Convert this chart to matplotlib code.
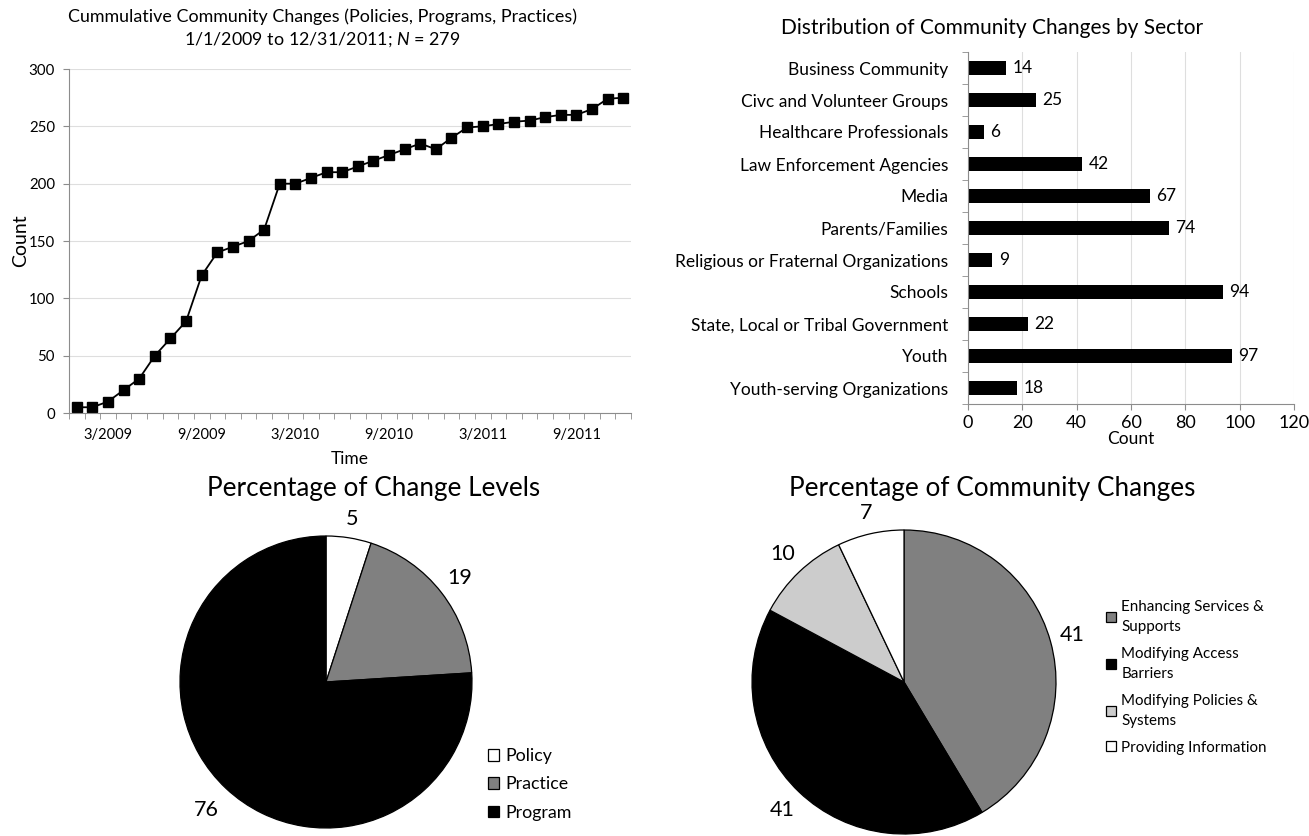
import matplotlib
matplotlib.use("Agg")
import matplotlib.pyplot as plt
import numpy as np

plt.rcParams['font.family'] = ['Lato', 'DejaVu Sans']
plt.rcParams['mathtext.fontset'] = 'custom'
plt.rcParams['mathtext.rm'] = 'Lato'
plt.rcParams['mathtext.it'] = 'Lato:italic'

# cumulative counts, one per month Jan 2009 - Dec 2011
months = list(range(36))
cumulative = [5, 5, 10, 20, 30, 50, 65, 80, 120, 140, 145, 150,
              160, 200, 200, 205, 210, 210, 215, 220, 225, 230, 235, 230,
              240, 249, 250, 252, 254, 255, 258, 260, 260, 265, 274, 275]
month_tick_idx = [2, 8, 14, 20, 26, 32]
month_tick_labels = ['3/2009', '9/2009', '3/2010', '9/2010', '3/2011', '9/2011']

sectors = ['Business Community', 'Civc and Volunteer Groups', 'Healthcare Professionals',
           'Law Enforcement Agencies', 'Media', 'Parents/Families',
           'Religious or Fraternal Organizations', 'Schools',
           'State, Local or Tribal Government', 'Youth', 'Youth-serving Organizations']
sector_counts = [14, 25, 6, 42, 67, 74, 9, 94, 22, 97, 18]

level_names = ['Policy', 'Practice', 'Program']
level_pct = [5, 19, 76]
level_colors = ['white', '#808080', 'black']

change_names = ['Enhancing Services &\nSupports', 'Modifying Access\nBarriers',
                'Modifying Policies &\nSystems', 'Providing Information']
change_pct = [41, 41, 10, 7]
change_colors = ['#808080', 'black', '#cccccc', 'white']

W, H = 1309, 836
fig = plt.figure(figsize=(W / 100, H / 100), dpi=100)


def px_axes(x0, y0, x1, y1):
    # pixel box (top-left origin) -> figure axes
    return fig.add_axes([x0 / W, 1 - y1 / H, (x1 - x0) / W, (y1 - y0) / H])


grid_c = '#dedede'
spine_c = '#8c8c8c'

# ---- line chart
ax1 = px_axes(69, 69, 631, 413)
ax1.plot(months, cumulative, color='black', lw=1.3, marker='s', markersize=7.8)
ax1.set_xlim(-0.5, 35.5)
ax1.set_ylim(0, 300)
ax1.set_yticks(range(0, 301, 50))
ax1.set_xticks(month_tick_idx)
ax1.set_xticklabels(month_tick_labels)
ax1.set_xticks(np.arange(-0.5, 36, 1), minor=True)
ax1.tick_params(axis='x', which='major', length=0, pad=11, labelsize=10.5)
ax1.tick_params(axis='x', which='minor', length=4, color=spine_c, direction='out')
ax1.tick_params(axis='y', length=4, color=spine_c, labelsize=10.8, pad=6)
ax1.grid(axis='y', color=grid_c, lw=0.8)
ax1.set_axisbelow(True)
for s in ['top', 'right']:
    ax1.spines[s].set_visible(False)
for s in ['left', 'bottom']:
    ax1.spines[s].set_color(spine_c)
ax1.set_ylabel('Count', fontsize=14, labelpad=0)
ax1.set_xlabel('Time', fontsize=12.5, labelpad=6)
fig.text(322 / W, 1 - 17 / H, 'Cummulative Community Changes (Policies, Programs, Practices)',
         ha='center', va='center', fontsize=12.9)
fig.text(322 / W, 1 - 40 / H, '1/1/2009 to 12/31/2011; $\\mathit{N}$ = 279',
         ha='center', va='center', fontsize=12.9)

# ---- bar chart
ax2 = px_axes(968, 52, 1294, 404)
ypos = np.arange(len(sectors))
bars = ax2.barh(ypos, sector_counts, height=0.42, color='black')
ax2.bar_label(bars, padding=4.5, fontsize=12.5)
ax2.set_ylim(len(sectors) - 0.5, -0.5)
ax2.set_xlim(0, 120)
ax2.set_yticks(ypos)
ax2.set_yticklabels(sectors)
ax2.set_yticks(np.arange(-0.5, len(sectors), 1), minor=True)
ax2.set_xticks(range(0, 121, 20))
ax2.tick_params(axis='y', which='major', length=0, pad=14, labelsize=12.5)
ax2.tick_params(axis='y', which='minor', length=4, color=spine_c)
ax2.tick_params(axis='x', length=4, color=spine_c, labelsize=13, pad=4)
ax2.grid(axis='x', color=grid_c, lw=0.8)
ax2.set_axisbelow(True)
for s in ['top', 'right']:
    ax2.spines[s].set_visible(False)
for s in ['left', 'bottom']:
    ax2.spines[s].set_color(spine_c)
ax2.set_xlabel('Count', fontsize=12.5, labelpad=0)
fig.text(992 / W, 1 - 28 / H, 'Distribution of Community Changes by Sector',
         ha='center', va='center', fontsize=15)


def draw_pie(ax, vals, colors, dist):
    wedges, _ = ax.pie(vals, colors=colors, startangle=90, counterclock=False,
                       wedgeprops=dict(edgecolor='black', linewidth=0.9))
    ax.set_xlim(-1, 1)
    ax.set_ylim(-1, 1)
    for w, v, d in zip(wedges, vals, dist):
        ang = np.deg2rad((w.theta1 + w.theta2) / 2)
        ax.text(d * np.cos(ang), d * np.sin(ang), str(v), ha='center', va='center',
                fontsize=15.5, clip_on=False)
    return wedges


# ---- pie 1
ax3 = px_axes(326 - 146, 682 - 146, 326 + 146, 682 + 146)
w1 = draw_pie(ax3, level_pct, level_colors, [1.13, 1.16, 1.2])
fig.text(374 / W, 1 - 488 / H, 'Percentage of Change Levels', ha='center', va='center', fontsize=18.8)
leg1 = fig.legend(w1, level_names, loc='upper left', bbox_to_anchor=(488 / W, 1 - 748 / H),
                  frameon=False, fontsize=12.8, handlelength=0.62, handleheight=0.62,
                  handletextpad=0.38, labelspacing=0.7, borderaxespad=0, borderpad=0)

# ---- pie 2
ax4 = px_axes(904 - 152, 682 - 152, 904 + 152, 682 + 152)
w2 = draw_pie(ax4, change_pct, change_colors, [1.15, 1.16, 1.16, 1.14])
fig.text(992 / W, 1 - 488 / H, 'Percentage of Community Changes', ha='center', va='center', fontsize=18.8)
leg2 = fig.legend(w2, change_names, loc='upper left', bbox_to_anchor=(1106 / W, 1 - 600 / H),
                  frameon=False, fontsize=10.9, handlelength=0.65, handleheight=0.65,
                  handletextpad=0.36, labelspacing=0.85, borderaxespad=0, borderpad=0)
for t in leg2.get_texts():
    t.set_linespacing(1.55)

fig.savefig('out.png', dpi=100)
